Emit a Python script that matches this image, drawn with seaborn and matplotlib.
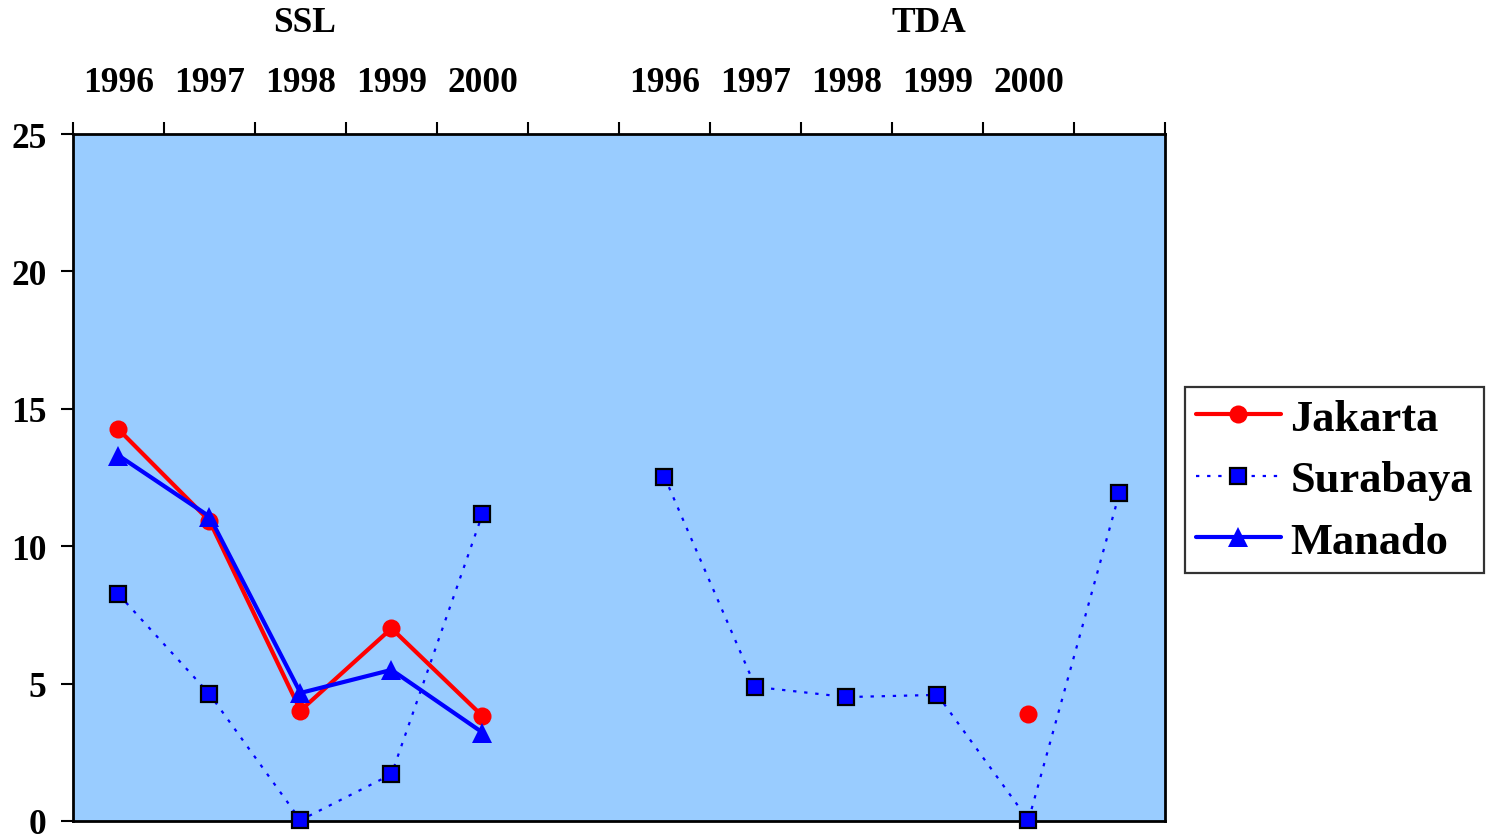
import numpy as np
import pandas as pd
import seaborn as sns
import matplotlib
matplotlib.use("Agg")
import matplotlib.pyplot as plt
import matplotlib.transforms as mtransforms

# dados (12 posicoes: SSL 1996-2000, vazio, TDA 1996-2000, vazio)
anos = ['1996', '1997', '1998', '1999', '2000', '',
        '1996', '1997', '1998', '1999', '2000', '']
grupos = ['SSL', 'TDA']
jakarta = [14.25, 10.92, 4.02, 7.01, 3.82, np.nan,
           np.nan, np.nan, np.nan, np.nan, 3.89, np.nan]
surabaya = [8.25, 4.62, 0.03, 1.70, 11.17, np.nan,
            12.52, 4.88, 4.51, 4.59, 0.03, 11.94]
manado = [13.30, 11.08, 4.66, 5.50, 3.22, np.nan,
          np.nan, np.nan, np.nan, np.nan, np.nan, np.nan]
cidades = ['Jakarta', 'Surabaya', 'Manado']

estilos = {
    'Jakarta': dict(color='#FF0000', marker='o', markersize=13, lw=3,
                    linestyle='-', markeredgecolor='#FF0000', markeredgewidth=0),
    'Surabaya': dict(color='#0000FF', marker='s', markersize=12, lw=1.6,
                     linestyle=(0, (1.5, 3.5)), markeredgecolor='black',
                     markeredgewidth=1.6, markerfacecolor='#0000FF'),
    'Manado': dict(color='#0000FF', marker='^', markersize=15, lw=3,
                   linestyle='-', markeredgecolor='#0000FF', markeredgewidth=0),
}

df = pd.DataFrame({'pos': np.arange(len(anos)), 'Jakarta': jakarta,
                   'Surabaya': surabaya, 'Manado': manado})

sns.set_style("white")
plt.rcParams['font.family'] = ['Liberation Serif', 'DejaVu Serif']
plt.rcParams['font.weight'] = 'bold'
plt.rcParams['text.color'] = 'black'
plt.rcParams['xtick.color'] = 'black'
plt.rcParams['ytick.color'] = 'black'
plt.rcParams['xtick.labelcolor'] = 'black'
plt.rcParams['ytick.labelcolor'] = 'black'

fig = plt.figure(figsize=(14.87, 8.37), dpi=100)
ax = fig.add_axes([73 / 1487, 15 / 837, 1092 / 1487, 687 / 837])
ax.set_facecolor('#99CCFF')

for cidade in cidades:
    serie = df[['pos', cidade]]
    # quebra a linha onde faltam valores
    ok = serie[cidade].notna()
    segmento = serie[cidade].isna().cumsum()
    primeiro = True
    for _, bloco in serie[ok].groupby(segmento[ok]):
        sns.lineplot(data=bloco, x='pos', y=cidade, ax=ax, estimator=None,
                     sort=False, clip_on=False, zorder=3,
                     label=cidade if primeiro else None, **estilos[cidade])
        primeiro = False

ax.set_xlim(-0.5, len(anos) - 0.5)
ax.set_ylim(0, 25)
ax.set_yticks([0, 5, 10, 15, 20, 25])
ax.set_xlabel('')
ax.set_ylabel('')

# ticks no topo: marcas nas fronteiras, rotulos nos centros
ax.xaxis.tick_top()
ax.set_xticks(np.arange(-0.5, len(anos), 1.0))
ax.set_xticklabels([])
ax.set_xticks(np.arange(len(anos)), minor=True)
ax.set_xticklabels(anos, minor=True, fontsize=25.5, fontweight='bold')
ax.tick_params(axis='x', which='major', direction='out', length=9, width=1.5,
               top=True, bottom=False, color='black')
ax.tick_params(axis='x', which='minor', length=0, pad=25, top=True, bottom=False)
ax.tick_params(axis='y', direction='out', length=9, width=1.5, pad=10,
               labelsize=25.5, color='black', left=True)
for lab in ax.get_yticklabels():
    lab.set_fontweight('bold')

for s in ax.spines.values():
    s.set_color('black')
    s.set_linewidth(2)

trans = mtransforms.blended_transform_factory(ax.transData, ax.transAxes)
for grupo, xg in zip(grupos, [2.05, 8.91]):
    ax.text(xg, 1.162, grupo, transform=trans, ha='center', va='center',
            fontsize=25.5, fontweight='bold', color='black')

leg = ax.legend(loc='center left', bbox_to_anchor=(1185 / 1487, 1 - 481 / 837),
                bbox_transform=fig.transFigure, frameon=True, fancybox=False,
                fontsize=32, handlelength=1.9, handletextpad=0.22,
                borderpad=0.25, labelspacing=0.48, borderaxespad=0)
leg.get_frame().set_edgecolor('black')
leg.get_frame().set_linewidth(1.6)
for t in leg.get_texts():
    t.set_fontweight('bold')
    t.set_color('black')

fig.savefig('out.png', dpi=100, facecolor='white')
